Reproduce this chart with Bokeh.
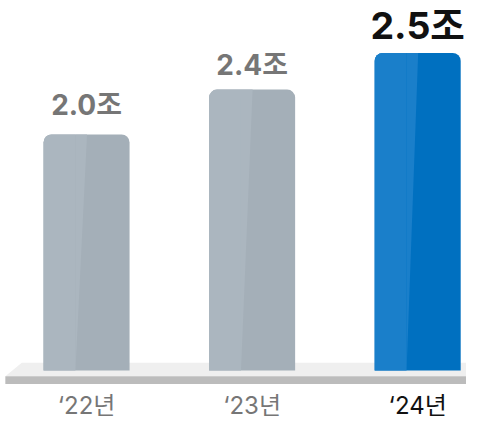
from bokeh.plotting import figure
from bokeh.models import ColumnDataSource, Range1d
from bokeh.core.properties import value
from bokeh.embed import file_html
from bokeh.resources import INLINE

# ---- data ----
years = ["\u201822년", "\u201823년", "\u201824년"]
values = [2.0, 2.4, 2.5]                 # 조 (trillion)
value_labels = ["2.0조", "2.4조", "2.5조"]
bar_heights = [2.0, 2.38, 2.69]          # bar heights as drawn in the picture
positions = [0, 1, 2]

# ---- layout (reference is 482x440, scaled to fit 466x424) ----
W, H = 466, 424
SX, SY = W / 482, H / 440
UX, UY = 171.25 * SX, 122.5 * SY        # px per data unit
X0 = -89 * SX / UX                      # left edge of frame in data units
BASE_PX = 384 * SY                      # y pixel of baseline (0)
BL = 0.43                               # baseline correction (em)

def px2x(rx):   # reference px -> data x
    return X0 + rx * SX / UX

def px2y(ry):   # reference px -> data y
    return (BASE_PX - ry * SY) / UY

FONT = value("Inter, 'Noto Sans CJK KR'")
dark_cols = ["#a4afb8", "#a4afb8", "#0070c0"]
light_cols = ["#abb6bf", "#abb6bf", "#1a7fca"]
label_cols = ["#767676", "#767676", "#111111"]
val_fs = [28, 28, 37.5]
val_gaps = [17, 12.5, 11.5]
year_fs = 24
bar_w = 89 * SX / UX

p = figure(width=W, height=H, output_backend="svg", toolbar_location=None,
           x_range=Range1d(X0, X0 + W / UX), y_range=Range1d(-(H - BASE_PX) / UY, BASE_PX / UY),
           min_border=0, outline_line_color=None, background_fill_color="white",
           border_fill_color="white")
p.axis.visible = False
p.grid.visible = False

# floor (decorative platform)
p.patch([px2x(5), px2x(22), px2x(500), px2x(500)],
        [px2y(390), px2y(376), px2y(376), px2y(390)],
        fill_color="#efefef", line_color=None)
p.quad(left=[px2x(5)], right=[px2x(500)], top=[px2y(390)], bottom=[px2y(398)],
       fill_color="#bcbcbc", line_color=None)

# bars
src = ColumnDataSource(dict(x=positions, top=bar_heights, dark=dark_cols,
                            light=light_cols))
p.vbar(x="x", top="top", bottom=0, width=bar_w, source=src,
       fill_color="dark", line_color=None, border_radius=(8, 8, 0, 0))

lefts = [x - bar_w / 2 for x in positions]
split_bot = [l + 33 * SX / UX for l in lefts]
split_top = [l + 45 * SX / UX for l in lefts]
p.quad(left=lefts, right=split_bot, top=bar_heights, bottom=[0] * 3,
       fill_color=light_cols, line_color=None, border_radius=(8, 0, 0, 0))
p.patches(xs=[[b, t, b] for b, t in zip(split_bot, split_top)],
          ys=[[0, h, h] for h in bar_heights],
          fill_color=light_cols, line_color=None)

# value labels
for i in range(3):
    p.text(x=[positions[i]], y=[bar_heights[i] + (val_gaps[i] + BL * val_fs[i]) / UY],
           text=[value_labels[i]], text_font=FONT, text_font_style="bold",
           text_font_size=f"{val_fs[i]}px", text_color=label_cols[i],
           text_align="center", text_baseline="alphabetic")

# year labels
p.text(x=positions, y=[px2y(431) + BL * year_fs / UY] * 3, text=years,
       text_font=FONT, text_font_size=f"{year_fs}px",
       text_color=label_cols, text_align="center", text_baseline="alphabetic")

open("out.html", "w").write(file_html(p, INLINE))
